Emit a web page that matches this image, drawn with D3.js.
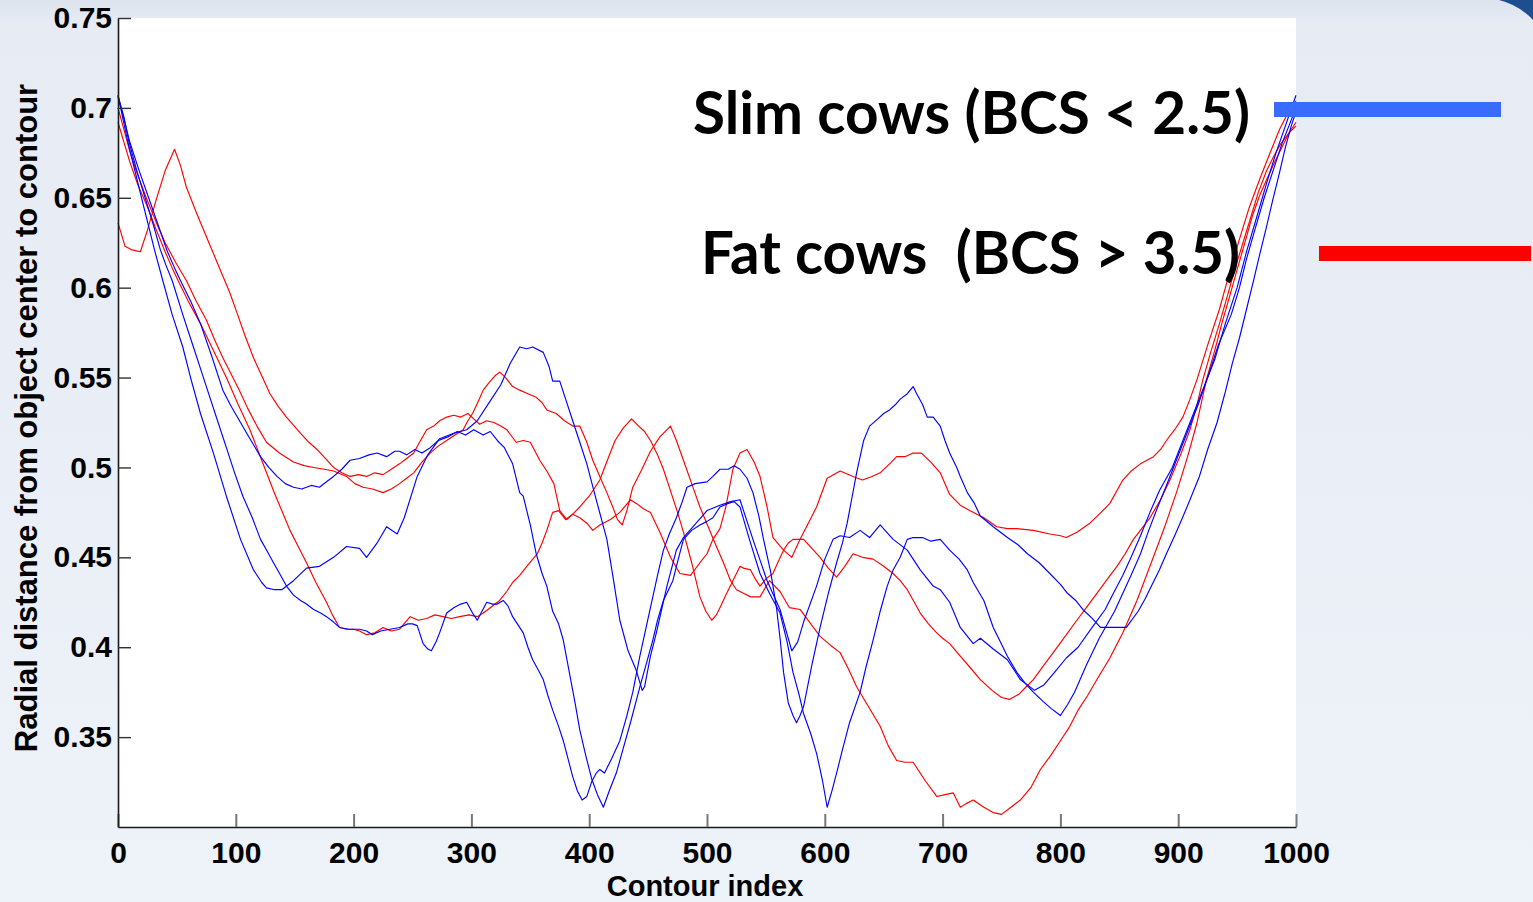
<!DOCTYPE html>
<html>
<head>
<meta charset="utf-8">
<script src="https://cdn.jsdelivr.net/npm/d3@7"></script>
<style>
  html, body { margin: 0; padding: 0; background: #ecf0f8; overflow: hidden; }
  .axis text { font-family: "Liberation Sans", Arial, sans-serif; font-weight: bold; font-size: 30px; fill: #000; }
  .axis .domain { stroke: #1a1a1a; stroke-width: 1.6; }
  .y.axis .tick line { stroke: #333; stroke-width: 1.4; }
  .x.axis .tick line { stroke: #777; stroke-width: 2; }
  .curve { fill: none; stroke-width: 1.15; stroke-linejoin: round; }
  .legend-text { font-family: Lato, "Open Sans", sans-serif; font-weight: bold; font-size: 59px; fill: #000; white-space: pre; }
</style>
</head>
<body>
<div id="vis-container"></div>
<script>
// axis settings
var xDomain = [0, 1000];
var yDomain = [0.3, 0.75];
var xTicks = [0, 100, 200, 300, 400, 500, 600, 700, 800, 900, 1000];
var yTicks = [0.35, 0.4, 0.45, 0.5, 0.55, 0.6, 0.65, 0.7, 0.75];
var xLabel = "Contour index";
var yLabel = "Radial distance from object center to contour";
var legendLabels = ["Slim cows (BCS < 2.5)", "Fat cows  (BCS > 3.5)"];

// slim cows (blue), [contour index, radial distance]
var slim1 = [[0,0.707],[8,0.682],[20,0.65],[31,0.621],[38,0.604],[46,0.585],[55,0.567],[62,0.549],[70,0.53],[81,0.508],[92,0.484],[104,0.46],[115,0.443],[122,0.436],[126,0.433],[133,0.432],[139,0.432],[149,0.437],[160,0.444],[171,0.445],[183,0.45],[194,0.456],[205,0.455],[211,0.45],[220,0.458],[228,0.467],[237,0.463],[243,0.472],[254,0.495],[263,0.507],[273,0.516],[285,0.519],[296,0.521],[305,0.526],[316,0.537],[325,0.546],[333,0.558],[341,0.567],[347,0.566],[352,0.567],[361,0.564],[366,0.556],[369,0.548],[375,0.548],[380,0.538],[386,0.526],[392,0.514],[398,0.502],[406,0.482],[415,0.46],[420,0.44],[426,0.415],[433,0.398],[440,0.387],[445,0.376],[447,0.378],[452,0.395],[457,0.408],[466,0.434],[474,0.454],[480,0.461],[488,0.467],[500,0.476],[511,0.479],[520,0.481],[528,0.482],[539,0.46],[551,0.437],[562,0.421],[572,0.398],[577,0.403],[582,0.414],[593,0.434],[600,0.449],[607,0.46],[613,0.462],[621,0.461],[630,0.465],[638,0.461],[647,0.468],[658,0.46],[670,0.454],[681,0.443],[692,0.434],[698,0.432],[706,0.425],[715,0.411],[726,0.402],[732,0.405],[743,0.399],[755,0.393],[766,0.382],[778,0.376],[786,0.379],[795,0.386],[805,0.394],[815,0.4],[828,0.412],[838,0.421],[845,0.43],[853,0.44],[860,0.45],[868,0.462],[876,0.475],[884,0.487],[895,0.5],[904,0.515],[913,0.53],[922,0.545],[931,0.56],[940,0.58],[950,0.6],[958,0.62],[967,0.64],[975,0.658],[983,0.675],[991,0.69],[1000,0.707]];
var slim2 = [[0,0.706],[5,0.694],[10,0.681],[18,0.665],[26,0.65],[34,0.635],[42,0.62],[48,0.611],[53,0.604],[62,0.592],[70,0.58],[80,0.561],[89,0.543],[96,0.534],[104,0.525],[112,0.516],[121,0.506],[128,0.5],[135,0.495],[142,0.491],[149,0.489],[156,0.488],[164,0.49],[171,0.489],[177,0.492],[183,0.495],[190,0.499],[197,0.504],[205,0.505],[213,0.507],[220,0.508],[228,0.506],[235,0.509],[239,0.509],[245,0.507],[252,0.51],[258,0.508],[265,0.511],[272,0.515],[280,0.517],[288,0.52],[295,0.518],[302,0.521],[310,0.518],[316,0.52],[322,0.515],[328,0.511],[335,0.502],[341,0.486],[344,0.484],[350,0.468],[355,0.452],[360,0.441],[364,0.434],[369,0.42],[374,0.413],[378,0.404],[384,0.383],[388,0.369],[392,0.354],[397,0.34],[402,0.327],[407,0.318],[412,0.311],[417,0.32],[423,0.33],[429,0.344],[435,0.358],[443,0.378],[449,0.392],[454,0.404],[458,0.415],[463,0.426],[471,0.437],[476,0.45],[480,0.46],[487,0.465],[494,0.468],[500,0.47],[505,0.472],[511,0.478],[518,0.48],[523,0.481],[528,0.478],[536,0.46],[545,0.441],[553,0.43],[562,0.419],[568,0.403],[573,0.386],[578,0.374],[582,0.363],[588,0.352],[593,0.341],[598,0.326],[602,0.311],[606,0.32],[610,0.33],[615,0.343],[621,0.358],[630,0.375],[635,0.389],[641,0.404],[647,0.42],[653,0.434],[658,0.443],[664,0.45],[670,0.46],[675,0.461],[683,0.461],[690,0.459],[698,0.46],[706,0.454],[714,0.449],[721,0.443],[726,0.436],[735,0.426],[743,0.411],[749,0.403],[755,0.395],[763,0.386],[770,0.38],[777,0.375],[785,0.37],[792,0.366],[800,0.362],[806,0.368],[812,0.375],[822,0.39],[833,0.405],[846,0.42],[860,0.44],[868,0.452],[875,0.465],[882,0.477],[890,0.49],[899,0.505],[908,0.52],[917,0.535],[925,0.55],[934,0.568],[945,0.585],[952,0.6],[958,0.616],[965,0.632],[973,0.65],[980,0.664],[988,0.68],[994,0.69],[1000,0.7]];
var slim3 = [[0,0.707],[5,0.695],[9,0.682],[16,0.665],[23,0.65],[30,0.635],[36,0.621],[41,0.612],[46,0.604],[55,0.585],[64,0.567],[71,0.553],[78,0.539],[85,0.525],[92,0.511],[99,0.497],[106,0.484],[114,0.472],[121,0.46],[127,0.453],[132,0.447],[138,0.44],[143,0.434],[149,0.429],[155,0.426],[160,0.424],[166,0.421],[172,0.419],[177,0.417],[183,0.414],[188,0.411],[196,0.41],[205,0.41],[211,0.409],[216,0.407],[223,0.409],[231,0.41],[239,0.411],[246,0.413],[250,0.413],[254,0.412],[259,0.402],[263,0.399],[266,0.398],[270,0.403],[273,0.408],[279,0.419],[285,0.422],[291,0.424],[296,0.425],[301,0.419],[305,0.415],[309,0.42],[313,0.425],[318,0.424],[322,0.424],[327,0.426],[331,0.423],[335,0.417],[340,0.412],[344,0.408],[348,0.4],[352,0.393],[357,0.387],[361,0.382],[365,0.373],[369,0.365],[374,0.356],[378,0.348],[382,0.338],[386,0.328],[390,0.32],[394,0.315],[398,0.317],[402,0.325],[406,0.33],[409,0.332],[413,0.33],[419,0.338],[426,0.348],[432,0.362],[437,0.375],[443,0.395],[448,0.41],[452,0.422],[458,0.44],[463,0.454],[468,0.463],[474,0.472],[479,0.481],[483,0.489],[490,0.491],[500,0.492],[505,0.495],[511,0.499],[518,0.499],[523,0.501],[528,0.499],[534,0.494],[539,0.486],[544,0.473],[548,0.46],[554,0.442],[559,0.422],[562,0.405],[565,0.386],[569,0.369],[573,0.362],[576,0.358],[579,0.362],[582,0.367],[589,0.39],[596,0.411],[603,0.43],[610,0.447],[615,0.458],[619,0.469],[623,0.483],[627,0.497],[633,0.515],[638,0.523],[645,0.527],[650,0.53],[655,0.532],[660,0.535],[664,0.538],[670,0.541],[675,0.545],[678,0.541],[683,0.535],[687,0.528],[692,0.528],[698,0.523],[702,0.515],[706,0.508],[712,0.5],[715,0.495],[721,0.486],[727,0.48],[732,0.473],[743,0.467],[755,0.461],[764,0.457],[772,0.452],[782,0.447],[791,0.441],[800,0.435],[806,0.43],[813,0.426],[819,0.421],[827,0.416],[834,0.411],[841,0.411],[848,0.411],[856,0.411],[866,0.42],[872,0.427],[878,0.435],[884,0.443],[890,0.452],[897,0.462],[903,0.471],[910,0.482],[918,0.495],[925,0.51],[933,0.525],[940,0.542],[946,0.558],[952,0.572],[958,0.588],[964,0.604],[969,0.618],[975,0.634],[980,0.648],[986,0.664],[991,0.678],[996,0.69],[1000,0.698]];

// fat cows (red)
var fat1 = [[0,0.636],[6,0.623],[12,0.621],[19,0.62],[25,0.632],[32,0.648],[40,0.665],[48,0.677],[53,0.668],[58,0.656],[67,0.641],[74,0.63],[81,0.619],[88,0.608],[95,0.597],[101,0.586],[108,0.573],[115,0.561],[122,0.551],[129,0.541],[136,0.534],[143,0.528],[155,0.519],[162,0.514],[169,0.51],[176,0.505],[183,0.5],[190,0.497],[197,0.495],[204,0.496],[211,0.495],[218,0.497],[225,0.496],[232,0.499],[239,0.502],[245,0.505],[251,0.508],[256,0.514],[262,0.521],[268,0.523],[273,0.526],[279,0.528],[285,0.529],[291,0.528],[297,0.53],[302,0.527],[307,0.524],[313,0.526],[319,0.525],[325,0.523],[330,0.521],[338,0.514],[344,0.515],[350,0.514],[358,0.504],[364,0.498],[370,0.491],[375,0.476],[381,0.471],[386,0.474],[392,0.472],[398,0.469],[403,0.465],[409,0.468],[418,0.471],[426,0.475],[435,0.482],[440,0.48],[446,0.477],[452,0.475],[460,0.464],[469,0.45],[477,0.441],[486,0.44],[494,0.447],[500,0.452],[505,0.46],[511,0.466],[516,0.478],[522,0.499],[528,0.508],[534,0.51],[540,0.503],[545,0.495],[551,0.478],[556,0.461],[565,0.454],[572,0.45],[579,0.46],[586,0.469],[593,0.478],[602,0.494],[613,0.498],[624,0.495],[632,0.493],[640,0.495],[647,0.497],[655,0.502],[661,0.506],[668,0.506],[675,0.508],[682,0.508],[690,0.503],[698,0.497],[706,0.485],[715,0.479],[723,0.476],[735,0.472],[746,0.467],[755,0.466],[763,0.466],[777,0.465],[791,0.463],[800,0.462],[805,0.461],[814,0.464],[825,0.469],[833,0.474],[842,0.48],[853,0.493],[860,0.498],[868,0.502],[879,0.506],[885,0.51],[890,0.515],[897,0.521],[904,0.528],[910,0.538],[916,0.549],[925,0.568],[935,0.588],[943,0.607],[952,0.627],[960,0.644],[969,0.66],[978,0.675],[986,0.688],[993,0.697],[1000,0.704]];
var fat2 = [[0,0.7],[5,0.688],[10,0.676],[16,0.664],[24,0.65],[32,0.637],[40,0.625],[49,0.614],[58,0.604],[66,0.593],[75,0.582],[82,0.571],[89,0.561],[96,0.552],[103,0.543],[110,0.533],[118,0.523],[126,0.514],[137,0.508],[149,0.503],[158,0.501],[166,0.5],[175,0.499],[183,0.498],[194,0.495],[201,0.491],[208,0.489],[216,0.488],[225,0.486],[232,0.488],[239,0.491],[245,0.494],[251,0.497],[258,0.503],[265,0.508],[272,0.512],[279,0.515],[286,0.518],[293,0.521],[297,0.526],[301,0.53],[306,0.537],[310,0.543],[316,0.548],[320,0.551],[324,0.553],[329,0.55],[335,0.545],[341,0.543],[348,0.541],[355,0.539],[360,0.536],[364,0.532],[372,0.53],[379,0.526],[386,0.523],[392,0.523],[398,0.514],[403,0.504],[409,0.495],[415,0.486],[420,0.478],[424,0.471],[428,0.468],[432,0.476],[437,0.489],[444,0.498],[452,0.509],[460,0.517],[469,0.523],[474,0.515],[480,0.504],[487,0.491],[494,0.478],[501,0.467],[508,0.456],[514,0.447],[520,0.437],[525,0.432],[531,0.43],[537,0.428],[545,0.428],[553,0.437],[562,0.431],[570,0.422],[579,0.421],[587,0.414],[596,0.406],[605,0.401],[613,0.397],[620,0.388],[627,0.378],[637,0.367],[647,0.356],[654,0.345],[661,0.337],[668,0.336],[675,0.336],[685,0.326],[695,0.317],[702,0.318],[709,0.319],[715,0.311],[720,0.313],[726,0.315],[735,0.311],[743,0.308],[750,0.307],[758,0.311],[766,0.315],[775,0.322],[783,0.332],[792,0.34],[800,0.348],[808,0.356],[815,0.365],[823,0.373],[831,0.382],[842,0.394],[853,0.408],[865,0.426],[876,0.445],[888,0.466],[899,0.487],[908,0.506],[916,0.525],[924,0.549],[931,0.565],[937,0.58],[944,0.596],[950,0.61],[957,0.626],[963,0.64],[969,0.651],[975,0.66],[982,0.67],[988,0.678],[994,0.686],[1000,0.692]];
var fat3 = [[0,0.692],[5,0.681],[10,0.67],[17,0.657],[25,0.645],[32,0.633],[40,0.62],[46,0.611],[51,0.604],[60,0.592],[70,0.58],[81,0.565],[92,0.55],[102,0.535],[112,0.521],[122,0.504],[132,0.487],[139,0.476],[146,0.465],[153,0.456],[160,0.447],[168,0.436],[177,0.425],[182,0.418],[188,0.411],[194,0.41],[200,0.41],[205,0.409],[211,0.407],[218,0.408],[225,0.411],[232,0.409],[239,0.41],[248,0.417],[255,0.415],[262,0.416],[269,0.418],[276,0.417],[283,0.416],[290,0.417],[298,0.418],[305,0.417],[310,0.419],[316,0.422],[324,0.426],[330,0.431],[335,0.436],[341,0.44],[347,0.445],[356,0.452],[360,0.458],[364,0.465],[369,0.475],[374,0.476],[380,0.471],[386,0.474],[392,0.478],[400,0.484],[409,0.493],[416,0.505],[422,0.515],[429,0.522],[436,0.527],[442,0.523],[447,0.52],[452,0.515],[458,0.507],[463,0.499],[470,0.485],[475,0.475],[480,0.464],[487,0.447],[494,0.428],[499,0.42],[504,0.415],[508,0.418],[511,0.422],[516,0.429],[522,0.437],[528,0.445],[531,0.444],[537,0.443],[541,0.438],[545,0.434],[550,0.438],[556,0.441],[560,0.447],[565,0.454],[569,0.458],[573,0.46],[582,0.46],[589,0.455],[596,0.45],[603,0.444],[610,0.439],[617,0.445],[624,0.452],[632,0.45],[641,0.449],[650,0.445],[658,0.441],[664,0.437],[670,0.432],[676,0.425],[681,0.419],[688,0.413],[695,0.408],[700,0.405],[706,0.402],[715,0.395],[723,0.389],[732,0.382],[742,0.376],[750,0.372],[757,0.371],[765,0.374],[771,0.378],[777,0.382],[786,0.39],[795,0.398],[804,0.406],[814,0.415],[822,0.422],[831,0.43],[840,0.438],[848,0.445],[855,0.452],[862,0.46],[869,0.466],[876,0.472],[885,0.482],[893,0.493],[902,0.507],[910,0.521],[916,0.535],[921,0.549],[928,0.565],[935,0.58],[942,0.596],[948,0.61],[955,0.625],[962,0.64],[968,0.653],[975,0.665],[981,0.673],[987,0.68],[994,0.686],[1000,0.69]];

var slimSeries = [slim1, slim2, slim3];
var fatSeries = [fat1, fat2, fat3];

//Set up margins
var margin = { top: 18, right: 237, bottom: 75, left: 118 };
var width  = 1533 - margin.left - margin.right;
var height = 902 - margin.top  - margin.bottom;

var xScale = d3.scaleLinear().domain(xDomain).range([0, width]);
var yScale = d3.scaleLinear().domain(yDomain).range([height, 0]);

var svg = d3.select("#vis-container")
  .append("svg")
    .attr("width", 1533)
    .attr("height", 902);

// slide background
var defs = svg.append("defs");
var grad = defs.append("linearGradient")
    .attr("id", "bg")
    .attr("x1", 0).attr("y1", 0).attr("x2", 0).attr("y2", 1);
grad.append("stop").attr("offset", "0").attr("stop-color", "#dde3ee");
grad.append("stop").attr("offset", "0.025").attr("stop-color", "#e6ebf4");
grad.append("stop").attr("offset", "1").attr("stop-color", "#eef2f9");
svg.append("rect")
    .attr("width", 1533).attr("height", 902)
    .attr("fill", "url(#bg)");
// little dark corner ornament top right
svg.append("path")
    .attr("d", "M1499,0 L1533,0 L1533,20 Q1519,5 1499,0 Z")
    .attr("fill", "#1d4f8f");

var canvas = svg.append("g")
    .attr("transform", "translate(" + margin.left + "," + margin.top + ")");

// white plot area
canvas.append("rect")
    .attr("width", width).attr("height", height)
    .attr("fill", "#fff");

var line = d3.line()
    .x(function(d) { return xScale(d[0]); })
    .y(function(d) { return yScale(d[1]); });

canvas.selectAll(".fat")
    .data(fatSeries)
    .enter().append("path")
      .attr("class", "curve fat")
      .attr("d", line)
      .attr("stroke", "#ff0000");

canvas.selectAll(".slim")
    .data(slimSeries)
    .enter().append("path")
      .attr("class", "curve slim")
      .attr("d", line)
      .attr("stroke", "#0000ff");

// axes, ticks pointing inwards
var xAxis = d3.axisBottom(xScale)
    .tickValues(xTicks)
    .tickSize(-13)
    .tickSizeOuter(0)
    .tickPadding(15)
    .tickFormat(d3.format("d"));
canvas.append("g")
    .attr("class", "x axis")
    .attr("transform", "translate(0," + height + ")")
    .call(xAxis);

var yAxis = d3.axisLeft(yScale)
    .tickValues(yTicks)
    .tickSize(-13)
    .tickSizeOuter(0)
    .tickPadding(6)
    .tickFormat(function(d) { return String(d); });
canvas.append("g")
    .attr("class", "y axis")
    .call(yAxis);

// axis titles
svg.append("text")
    .attr("x", 705)
    .attr("y", 896)
    .attr("text-anchor", "middle")
    .style("font-family", "'Liberation Sans', Arial, sans-serif")
    .style("font-weight", "bold")
    .style("font-size", "29px")
    .text(xLabel);

svg.append("text")
    .attr("transform", "translate(37,418) rotate(-90)")
    .attr("text-anchor", "middle")
    .style("font-family", "'Liberation Sans', Arial, sans-serif")
    .style("font-weight", "bold")
    .style("font-size", "31px")
    .text(yLabel);

// legend
var legend = [
  { label: legendLabels[0], color: "#3a6bff", tx: 693, ty: 134, tw: 557, x1: 1274, x2: 1501, ly: 109.5 },
  { label: legendLabels[1], color: "#ff0000", tx: 701, ty: 274, tw: 539, x1: 1319, x2: 1531, ly: 253.5 }
];
svg.selectAll(".legend-text")
    .data(legend)
    .enter().append("text")
      .attr("class", "legend-text")
      .attr("x", function(d) { return d.tx; })
      .attr("y", function(d) { return d.ty; })
      .attr("textLength", function(d) { return d.tw; })
      .attr("lengthAdjust", "spacingAndGlyphs")
      .text(function(d) { return d.label; });
svg.selectAll(".legend-line")
    .data(legend)
    .enter().append("line")
      .attr("class", "legend-line")
      .attr("x1", function(d) { return d.x1; })
      .attr("x2", function(d) { return d.x2; })
      .attr("y1", function(d) { return d.ly; })
      .attr("y2", function(d) { return d.ly; })
      .attr("stroke", function(d) { return d.color; })
      .attr("stroke-width", 15);
</script>
</body>
</html>
